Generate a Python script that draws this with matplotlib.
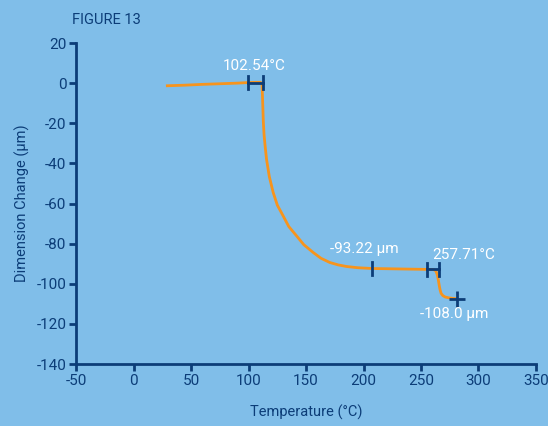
import matplotlib.pyplot as plt
import numpy as np

# curve
temperature = [29.3, 45, 60, 75, 90, 99.6, 106, 110, 111.6, 112.0, 112.4, 112.8, 113.5,
               114.5, 115.6, 118, 121.4, 125, 130, 135, 141.7, 148, 156.2, 163, 170.7,
               178, 185.3, 195, 207.6, 220, 240.4, 252, 260.7, 262.8, 264.2, 265.2,
               265.9, 266.6, 267.5, 269, 271, 274, 278, 281.1]
dimension = [-1.3, -1.0, -0.6, -0.3, 0.0, 0.3, 0.4, 0.4, 0.0, -5, -12, -19, -26,
             -32, -37.9, -46.5, -54.5, -60.8, -66.1, -71.5, -76.1, -80.5, -84.4,
             -87.3, -89.4, -90.6, -91.4, -92.0, -92.4, -92.5, -92.7, -92.8, -92.9,
             -93.5, -95.5, -98.5, -101, -103, -104.8, -105.9, -106.6, -107.0,
             -107.3, -107.4]

onset1 = (99.6, 112.6, 0.3)
onset2 = (255.5, 265.6, -92.7)
step_point = (207.6, -92.4)
end_point = (281.1, -107.4)

bg = '#80bee9'
navy = '#0c3d78'
orange = '#f7941d'

plt.rcParams['font.family'] = ['Roboto', 'DejaVu Sans']
plt.rcParams['axes.unicode_minus'] = False

fig = plt.figure(figsize=(5.48, 4.26), dpi=100, facecolor=bg)
ax = fig.add_axes([0.139, 0.1455, 0.839, 0.7535], facecolor=bg)

ax.plot(temperature, dimension, color=orange, lw=2, zorder=2)

for x1, x2, y in (onset1, onset2):
    ax.plot([x1, x2], [y, y], color=navy, lw=2, zorder=3)
    ax.plot([x1, x1], [y - 3.2, y + 3.2], color=navy, lw=2, zorder=3)
    ax.plot([x2, x2], [y - 3.2, y + 3.2], color=navy, lw=2, zorder=3)
ax.plot([step_point[0]] * 2, [step_point[1] - 3.2, step_point[1] + 3.2],
        color=navy, lw=2, zorder=3)
ax.plot(*end_point, marker='+', ms=11, mew=2, color=navy, zorder=3)

tkw = dict(color='white', fontsize=11)
ax.text(105, 5, '102.54°C', ha='center', va='bottom', **tkw)
ax.text(201, -86, '-93.22 µm', ha='center', va='bottom', **tkw)
ax.text(260, -89, '257.71°C', ha='left', va='bottom', **tkw)
ax.text(279, -111.5, '-108.0 µm', ha='center', va='top', **tkw)

ax.set_xlim(-50, 350)
ax.set_ylim(-140, 20)
ax.set_xticks(range(-50, 351, 50))
ax.set_yticks(range(-140, 21, 20))
for s in ('top', 'right'):
    ax.spines[s].set_visible(False)
for s in ('left', 'bottom'):
    ax.spines[s].set_color(navy)
    ax.spines[s].set_linewidth(2)
ax.tick_params(colors=navy, labelcolor=navy, width=2, length=5, labelsize=11, pad=2)

ax.set_xlabel('Temperature (°C)', color=navy, fontsize=10.5, labelpad=12)
ax.set_ylabel('Dimension Change (µm)', color=navy, fontsize=10.5, labelpad=5)

fig.text(0.131, 0.952, 'FIGURE 13', color=navy, fontsize=10.5, ha='left', va='center')

fig.savefig('out.png', dpi=100, facecolor=bg)
